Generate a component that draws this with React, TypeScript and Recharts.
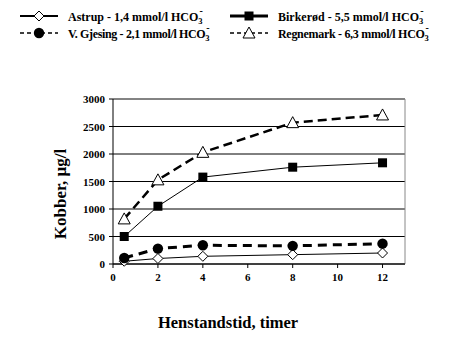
import React from 'react';
import { LineChart, Line, XAxis, YAxis, CartesianGrid, ReferenceLine } from 'recharts';

const hours = [0.5, 2, 4, 8, 12];
const astrup = [50, 100, 140, 170, 200];
const gjesing = [110, 280, 340, 330, 370];
const birkerod = [500, 1050, 1580, 1760, 1840];
const regnemark = [820, 1530, 2030, 2570, 2710];

const xTicks = [0, 2, 4, 6, 8, 10, 12];
const yTicks = [0, 500, 1000, 1500, 2000, 2500, 3000];

const data = hours.map((h, i) => ({
  h,
  astrup: astrup[i],
  gjesing: gjesing[i],
  birkerod: birkerod[i],
  regnemark: regnemark[i],
}));

const FONT = '"Liberation Serif", "Times New Roman", serif';

type DotProps = { cx?: number; cy?: number };

const Diamond = ({ cx = 0, cy = 0 }: DotProps) => (
  <path d={`M${cx},${cy - 5}L${cx + 5},${cy}L${cx},${cy + 5}L${cx - 5},${cy}Z`} fill="#fff" stroke="#000" strokeWidth={1} />
);
const Square = ({ cx = 0, cy = 0 }: DotProps) => (
  <rect x={cx - 4.5} y={cy - 4.5} width={9} height={9} fill="#000" />
);
const Circle = ({ cx = 0, cy = 0 }: DotProps) => <circle cx={cx} cy={cy} r={5.2} fill="#000" />;
const Triangle = ({ cx = 0, cy = 0 }: DotProps) => (
  <path d={`M${cx},${cy - 6}L${cx + 6},${cy + 5}L${cx - 6},${cy + 5}Z`} fill="#fff" stroke="#000" strokeWidth={1} />
);

const HCO3 = () => (
  <>
    <tspan>HCO</tspan>
    <tspan dy={3} fontSize={8.5}>3</tspan>
    <tspan dx={-3} dy={-10} fontSize={10}>-</tspan>
  </>
);

type LegendItemProps = {
  x: number;
  y: number;
  dash?: string;
  width: number;
  Marker: React.FC<DotProps>;
  label: string;
  spacing?: number;
};

const LegendItem = ({ x, y, dash, width, Marker, label, spacing = 0 }: LegendItemProps) => (
  <g>
    <line x1={x} x2={x + 38} y1={y} y2={y} stroke="#000" strokeWidth={width} strokeDasharray={dash} />
    <Marker cx={x + 19} cy={y} />
    <text
      x={x + 48}
      y={y + 4.5}
      fontFamily={FONT}
      fontWeight="bold"
      fontSize={12}
      letterSpacing={spacing}
      fill="#000"
    >
      {label}
      <HCO3 />
    </text>
  </g>
);

type TickProps = { x?: number; y?: number; payload?: { value: number } };

const XTick = ({ x = 0, y = 0, payload }: TickProps) => (
  <text x={x} y={y + 11} textAnchor="middle" fontFamily={FONT} fontWeight="bold" fontSize={11} fill="#000">
    {payload?.value}
  </text>
);

const YTick = ({ x = 0, y = 0, payload }: TickProps) => (
  <text x={x - 2} y={y + 4} textAnchor="end" fontFamily={FONT} fontWeight="bold" fontSize={11} fill="#000">
    {payload?.value}
  </text>
);

export default function App() {
  return (
    <div style={{ position: 'absolute', left: 0, top: 0, width: 452, height: 337, background: '#fff', fontFamily: FONT }}>
      <LineChart
        width={452}
        height={337}
        data={data}
        margin={{ top: 99, right: 47, left: 53, bottom: 0 }}
      >
        <CartesianGrid vertical={false} stroke="#000" strokeWidth={1} />
        <ReferenceLine y={3000} stroke="#888" strokeWidth={1} />
        <ReferenceLine x={13} stroke="#888" strokeWidth={1} />
        <XAxis
          dataKey="h"
          type="number"
          domain={[0, 13]}
          ticks={xTicks}
          height={73}
          stroke="#000"
          tickSize={4}
          tick={<XTick />}
        />
        <YAxis
          type="number"
          domain={[0, 3000]}
          ticks={yTicks}
          width={60}
          stroke="#000"
          tickSize={4}
          tick={<YTick />}
        />
        <Line dataKey="astrup" stroke="#000" strokeWidth={1} dot={<Diamond />} isAnimationActive={false} />
        <Line dataKey="birkerod" stroke="#000" strokeWidth={1} dot={<Square />} isAnimationActive={false} />
        <Line dataKey="gjesing" stroke="#000" strokeWidth={3} strokeDasharray="9 6" dot={<Circle />} isAnimationActive={false} />
        <Line dataKey="regnemark" stroke="#000" strokeWidth={2.5} strokeDasharray="9 5" dot={<Triangle />} isAnimationActive={false} />
      </LineChart>
      <svg width={452} height={337} style={{ position: 'absolute', left: 0, top: 0, pointerEvents: 'none' }}>
        <LegendItem x={20} y={16} width={2} Marker={Diamond} label="Astrup - 1,4 mmol/l " />
        <LegendItem x={230} y={16} width={3} Marker={Square} label="Birkerød - 5,5 mmol/l " />
        <LegendItem x={20} y={33} width={1.5} dash="4 3" Marker={Circle} label="V. Gjesing - 2,1 mmol/l " spacing={-0.35} />
        <LegendItem x={230} y={33} width={1.5} dash="4 3" Marker={Triangle} label="Regnemark - 6,3 mmol/l " spacing={-0.3} />
        <text
          transform="translate(66,194) rotate(-90)"
          textAnchor="middle"
          fontFamily={FONT}
          fontWeight="bold"
          fontSize={17}
          fill="#000"
        >
          Kobber, µg/l
        </text>
        <text x={228} y={328} textAnchor="middle" fontFamily={FONT} fontWeight="bold" fontSize={16.5} fill="#000">
          Henstandstid, timer
        </text>
      </svg>
    </div>
  );
}
